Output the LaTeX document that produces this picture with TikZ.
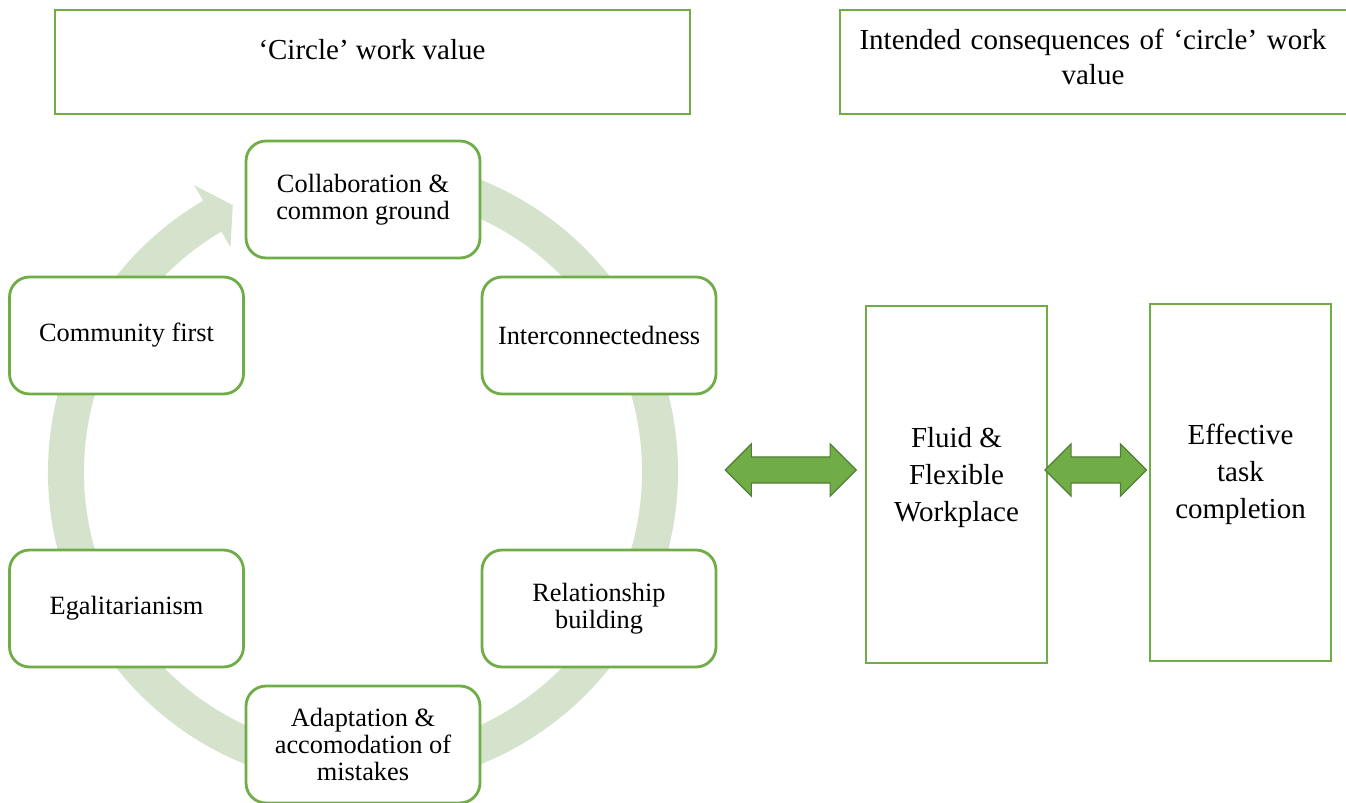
\documentclass[tikz,border=0pt]{standalone}
\usepackage{fontspec}
\setmainfont{Liberation Serif}
\usetikzlibrary{shapes.arrows,calc}
\definecolor{leaf}{HTML}{70AD47}
\definecolor{leafdark}{HTML}{507E32}
\definecolor{ringgreen}{HTML}{D5E3CD}
\newcommand{\cyc}{\fontsize{15}{15.3}\selectfont}
\newcommand{\hd}{\fontsize{16.5}{20}\selectfont}

\begin{document}
\begin{tikzpicture}[x=0.02cm,y=-0.02cm,
   valbox/.style={draw=leaf,line width=1.6pt,fill=white,rounded corners=0.4cm,
     minimum width=4.68cm,minimum height=2.34cm,align=center,font=\cyc,inner sep=2pt},
   headbox/.style={draw=leaf,line width=1.3pt},
   conbox/.style={draw=leaf,line width=1.2pt,fill=white,minimum width=3.62cm,minimum height=7.14cm},
   context/.style={align=center,font=\fontsize{16.5}{21}\selectfont},
   dblarrow/.style={double arrow,draw=leafdark,fill=leaf,line width=0.7pt,inner sep=0pt,
     text height=0.5cm,text depth=0pt,double arrow head extend=0.26cm,minimum width=1.02cm}]
   \useasboundingbox (0,0) rectangle (1346,803);
   % ring of the cycle, one arrow head at the top
   \coordinate (c) at (363,472);
   \draw[ringgreen,line width=0.72cm] (c) ++(-80:297) arc[start angle=-80,end angle=239.5,radius=297];
   \fill[ringgreen] ($(c)+(-120.5:261)$) -- ($(c)+(-120.5:333)$) -- ($(c)+(-116:297)$) -- cycle;
   % headings
   \draw[headbox] (55,10) rectangle (690,114);
   \node (title) at (372,50) {\hd ‘Circle’ work value};
   \draw[headbox] (840,10) rectangle (1352,114);
   \node[align=center,text width=9.6cm,font=\hd] (outcome) at (1093,57)
      {Intended consequences of ‘circle’ work\\value};
   % the six values
   \node[valbox] (collab) at (363,199.5) {Collaboration \&\\common ground};
   \node[valbox] (community) at (126.5,335.5) {Community first};
   \node[valbox] (inter) at (599,335.5) {Interconnectedness};
   \node[valbox] (egal) at (126.5,608.5) {Egalitarianism};
   \node[valbox] (relation) at (599,608.5) {Relationship\\building};
   \node[valbox] (adapt) at (363,744.5) {Adaptation \&\\accomodation of\\mistakes};
   % consequences
   \node[conbox] (fluid) at (956.5,484.5) {};
   \node[context] (fluidtxt) at ($(fluid)+(0,-7)$) {Fluid \&\\Flexible\\Workplace};
   \node[conbox] (effect) at (1240.5,482.5) {};
   \node[context] (effecttxt) at ($(effect)+(0,-8)$) {Effective\\task\\completion};
   \node[dblarrow,minimum height=2.62cm] (link) at (790.75,470) {};
   \node[dblarrow,minimum height=2.03cm] (link2) at (1095.75,470) {};
\end{tikzpicture}
\end{document}
